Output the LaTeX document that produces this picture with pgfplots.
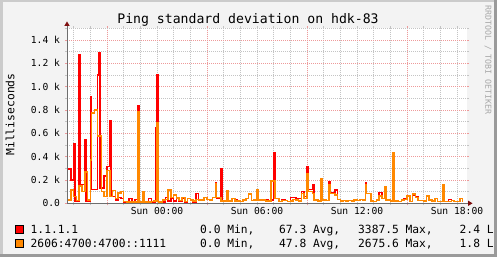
\documentclass[border=0pt]{standalone}
\usepackage{pgfplots}
\pgfplotsset{compat=1.18}
\usepackage{pgfplotstable}
\usepackage{fontspec}
\newfontfamily\rrd{DejaVu Sans Mono}
\definecolor{rrdback}{HTML}{F3F3F3}
\definecolor{shadea}{HTML}{CBCBCB}
\definecolor{shadeb}{HTML}{9A9A9A}
\definecolor{mgrid}{HTML}{EE9A9A}
\definecolor{mingrid}{HTML}{C4C4C4}
\definecolor{axiscol}{HTML}{6E6E6E}
\definecolor{arrowcol}{HTML}{7F1010}
\definecolor{rrdred}{HTML}{FF0000}
\definecolor{rrdorange}{HTML}{FF8800}
\definecolor{wmgray}{HTML}{A8A8A8}

\pgfplotstableread{
m r o
-320 295 30
-310 200 115
-300 508 60
-295 20 60
-290 20 25
-280 1271 150
-275 160 150
-270 160 100
-260 543 270
-255 20 270
-250 20 30
-240 914 370
-235 120 774
-225 120 800
-215 1100 577
-210 1291 577
-205 130 577
-200 130 100
-190 234 60
-180 314 280
-170 705 60
-165 60 60
-160 60 110
-150 30 40
-140 50 90
-130 40 100
-120 10 15
-110 10 10
-100 43 10
-90 8 10
-80 34 10
-70 834 785
-65 5 10
-60 5 10
-50 10 100
-45 10 10
-40 10 10
-30 43 12
-20 10 15
-10 10 20
-5 651 20
0 1100 694
5 5 10
10 5 10
20 10 30
30 50 34
40 20 114
50 45 50
60 20 70
70 45 45
80 15 23
90 45 51
100 10 15
110 40 40
120 30 30
130 10 20
140 86 34
150 29 29
160 29 29
170 51 51
180 34 34
190 30 30
200 51 51
210 180 171
215 40 51
220 40 51
230 300 20
235 20 20
240 20 20
250 106 106
255 20 20
260 20 20
270 40 40
280 34 20
290 20 20
300 15 15
310 30 30
320 40 40
330 80 80
340 23 23
350 34 30
360 114 114
365 30 30
370 30 30
380 34 30
390 34 20
400 20 20
410 30 191
420 437 191
425 40 40
430 40 40
440 15 15
450 34 25
460 25 25
470 15 15
480 51 20
490 51 34
500 43 30
510 43 20
520 100 86
530 60 43
540 314 249
545 120 100
550 120 100
560 157 86
565 30 30
570 30 30
580 20 20
590 209 209
595 30 30
600 30 30
610 25 25
620 186 163
625 91 86
630 91 86
640 114 71
650 34 34
660 20 20
670 25 25
680 20 20
690 25 25
700 20 20
710 34 30
720 25 25
730 34 34
740 30 30
750 177 157
755 86 86
760 86 86
770 20 20
780 15 15
790 30 30
800 91 63
810 43 43
820 143 143
825 30 30
830 30 30
840 20 20
850 434 434
855 20 20
860 20 20
870 15 15
880 30 30
890 40 34
900 63 63
910 15 15
920 71 80
930 60 50
940 23 23
950 23 23
960 20 20
970 63 63
980 30 30
990 20 20
1000 43 43
1010 14 14
1020 14 14
1030 157 157
1035 14 14
1040 14 14
1050 34 14
1060 23 23
1070 14 14
1080 14 14
1090 43 43
1100 14 14
}\pingdata

\begin{document}
\begin{tikzpicture}
\path[use as bounding box] (0,0) rectangle (497bp,257bp);
\fill[rrdback] (0,0) rectangle (497bp,257bp);

\begin{axis}[
  at={(67bp,53.7bp)}, anchor=south west,
  scale only axis, width=400bp, height=175bp,
  xmin=-324, xmax=1116, ymin=0, ymax=1500,
  axis background/.style={fill=white},
  axis line style={draw=none},
  xtick={-180,180,540,900}, xticklabels={},
  minor xtick={-300,-240,...,1080},
  extra x ticks={0,360,720,1080},
  extra x tick labels={Sun 00:00,Sun 06:00,Sun 12:00,Sun 18:00},
  extra x tick style={grid=none, major tick length=0pt},
  ytick={0,200,...,1400},
  yticklabels={0.0,0.2 k,0.4 k,0.6 k,0.8 k,1.0 k,1.2 k,1.4 k},
  minor ytick={100,300,...,1500},
  grid=both,
  major grid style={draw=mgrid, dash pattern=on 1bp off 1bp, line width=0.7bp},
  minor grid style={draw=mingrid, dash pattern=on 1bp off 1bp, line width=0.7bp},
  tick align=outside, major tick length=2bp, minor tick length=2bp,
  every major tick/.append style={draw=mgrid, line width=0.7bp},
  every minor tick/.append style={draw=mingrid, line width=0.7bp},
  ticklabel style={font=\rrd\fontsize{9.7}{10}\selectfont, text=black},
  xticklabel style={yshift=-1bp},
  yticklabel style={xshift=-1.5bp},
]
\addplot[const plot mark left, draw=rrdred, line width=1.5bp, line join=miter] table[x=m,y=r]{\pingdata};
\addplot[const plot mark left, draw=rrdorange, line width=1.5bp, line join=miter] table[x=m,y=o]{\pingdata};
\end{axis}

% axis lines
\draw[axiscol, line width=1bp] (67bp,53.7bp) -- (67bp,231bp);
\fill[arrowcol] (64.3bp,231bp) -- (69.7bp,231bp) -- (67bp,235.5bp) -- cycle;
\draw[axiscol, line width=1bp] (67bp,53.7bp) -- (468bp,53.7bp);
\fill[arrowcol] (468bp,51bp) -- (468bp,56.4bp) -- (472.5bp,53.7bp) -- cycle;

% title
\node[anchor=base, inner sep=0, font=\rrd\fontsize{13.2}{14}\selectfont] at (248bp,233bp) {Ping standard deviation on hdk-83};
% y label
\node[rotate=90, anchor=base, inner sep=0, font=\rrd\fontsize{11.4}{12}\selectfont] at (14.3bp,142.5bp) {Milliseconds};
% watermark
\node[rotate=-90, anchor=west, inner sep=0, text=wmgray, font=\rrd\fontsize{8.3}{9}\selectfont] at (488bp,252bp) {RRDTOOL / TOBI OETIKER};

% legend
\filldraw[fill=rrdred, draw=black, line width=0.8bp] (15.5bp,24bp) rectangle (23.5bp,32bp);
\filldraw[fill=rrdorange, draw=black, line width=0.8bp] (15.5bp,10bp) rectangle (23.5bp,18bp);
\begin{scope}[every node/.style={anchor=base west, inner sep=0, font=\rrd\fontsize{11.3}{12}\selectfont}]
\node at (30.5bp,23.7bp) {1.1.1.1};
\node at (200bp,23.7bp) {0.0 Min,};
\node at (279bp,23.7bp) {67.3 Avg,};
\node at (358bp,23.7bp) {3387.5 Max,};
\node at (459.5bp,23.7bp) {2.4 L};
\node at (30.5bp,9.7bp) {2606:4700:4700::1111};
\node at (200bp,9.7bp) {0.0 Min,};
\node at (279bp,9.7bp) {47.8 Avg,};
\node at (358bp,9.7bp) {2675.6 Max,};
\node at (459.5bp,9.7bp) {1.8 L};
\end{scope}

% borders
\fill[shadea] (0,254.5bp) rectangle (497bp,257bp);
\fill[shadea] (0,0) rectangle (2.5bp,257bp);
\fill[shadeb] (0,0) rectangle (497bp,2.5bp);
\fill[shadeb] (494bp,0) rectangle (497bp,257bp);
\end{tikzpicture}
\end{document}
